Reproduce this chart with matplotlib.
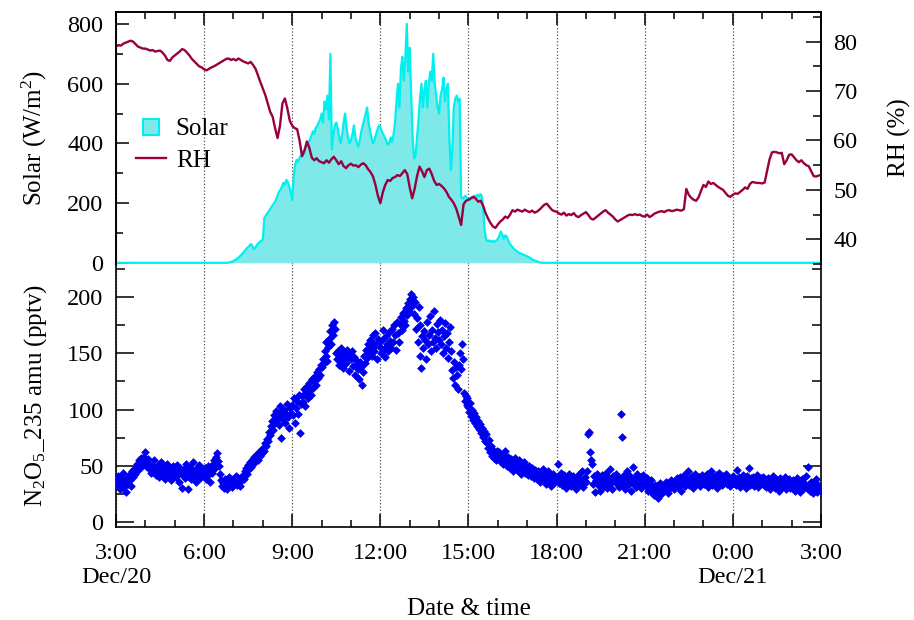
import numpy as np
import matplotlib
matplotlib.use("Agg")
from matplotlib import pyplot as plt
from matplotlib.lines import Line2D

plt.rcParams['font.family'] = ['Liberation Serif', 'DejaVu Serif']
plt.rcParams['mathtext.fontset'] = 'custom'
plt.rcParams['mathtext.rm'] = 'Liberation Serif'
plt.rcParams['mathtext.it'] = 'Liberation Serif:italic'
plt.rcParams['font.size'] = 18

# x axis: hours counted from 0:00 Dec/20
hour_ticks = [3, 6, 9, 12, 15, 18, 21, 24, 27]
hour_tick_labels = ['3:00\nDec/20', '6:00', '9:00', '12:00', '15:00',
                    '18:00', '21:00', '0:00\nDec/21', '3:00']

# Solar radiation (W/m2), 3 min steps, 6:00 - 18:00 (night is 0)
solar_day = [
    0, 0, 0, 0, 0, 0, 0, 0, 0, 0, 0, 0, 0, 0, 0, 0, 0, 1, 2, 4,
    6, 9, 12, 16, 20, 25, 30, 36, 42, 48, 53, 58, 63, 55, 45, 52, 60, 66, 70, 74,
    78, 150, 158, 165, 172, 180, 188, 195, 202, 212, 225, 238, 245, 255, 268, 262, 278, 270, 255, 235,
    210, 290, 330, 345, 338, 352, 360, 372, 365, 385, 392, 402, 412, 425, 440, 432, 452, 458, 470, 480,
    500, 470, 540, 515, 560, 480, 700, 380, 430, 460, 470, 450, 420, 400, 430, 470, 500, 450, 420, 400,
    410, 430, 460, 420, 400, 390, 410, 440, 460, 480, 500, 520, 470, 440, 420, 400, 410, 430, 445, 460,
    455, 440, 430, 420, 410, 395, 400, 420, 405, 430, 470, 540, 600, 520, 650, 690, 610, 680, 800, 640,
    720, 560, 420, 350, 360, 420, 480, 550, 600, 520, 580, 610, 520, 600, 640, 610, 700, 600, 560, 520,
    500, 560, 580, 620, 540, 580, 600, 420, 310, 380, 520, 550, 560, 540, 550, 220, 215, 220, 225, 215,
    215, 210, 220, 215, 225, 220, 228, 222, 230, 225, 180, 110, 78, 72, 75, 70, 74, 70, 72, 75,
    80, 90, 105, 95, 80, 92, 88, 75, 65, 58, 52, 46, 42, 38, 35, 32, 30, 28, 26, 24,
    22, 19, 16, 13, 10, 8, 6, 4, 2, 1, 0, 0, 0, 0, 0, 0, 0, 0, 0, 0,
    0,
]
solar_wm2 = [0] * 60 + solar_day + [0] * 180

# Relative humidity (%), 5 min steps, 3:00 Dec/20 - 3:00 Dec/21
rh_pct = [
    79.0, 79.3, 79.2, 79.6, 79.8, 80.0, 80.2, 80.0, 79.5, 79.0, 78.8, 78.6,
    78.6, 78.4, 78.2, 78.3, 78.0, 78.1, 78.2, 77.8, 77.2, 76.3, 76.1, 76.8,
    77.2, 77.6, 78.0, 78.5, 78.3, 77.8, 77.2, 76.5, 76.0, 75.5, 75.0, 74.8,
    74.4, 74.2, 74.5, 74.8, 75.0, 75.3, 75.6, 75.9, 76.2, 76.5, 76.6, 76.3,
    76.5, 76.2, 76.6, 76.3, 76.0, 75.8, 75.6, 75.9, 75.3, 74.5, 73.2, 71.8,
    70.5, 69.2, 67.5, 65.8, 64.8, 62.5, 60.5, 63.0, 67.5, 68.5, 66.5, 64.0,
    63.0, 62.5, 62.3, 60.0, 56.8, 58.0, 59.8, 58.5, 56.5, 56.0, 56.4, 55.8,
    55.6, 55.4, 56.0, 55.5, 56.2, 56.7, 56.0, 55.2, 55.8, 54.8, 54.4, 55.0,
    55.3, 54.9, 55.0, 54.6, 55.1, 55.4, 55.0, 54.2, 53.6, 52.7, 51.0, 48.8,
    47.3, 49.5, 51.0, 52.0, 51.8, 52.4, 52.6, 53.0, 52.8, 53.4, 54.0, 53.2,
    50.5, 48.3, 50.2, 52.8, 54.7, 53.8, 52.6, 54.0, 54.3, 53.2, 51.8, 51.0,
    51.2, 50.8, 50.3, 49.6, 48.6, 48.0, 47.3, 46.2, 44.6, 42.9, 47.1, 47.8,
    48.0, 48.3, 48.6, 48.2, 47.6, 47.8, 46.8, 45.3, 44.2, 43.3, 42.6, 42.3,
    43.0, 43.6, 44.0, 44.6, 44.3, 45.0, 45.9, 45.6, 46.0, 45.8, 45.6, 46.0,
    45.7, 45.5, 45.8, 45.4, 45.6, 46.0, 46.5, 47.0, 47.2, 46.6, 46.0, 45.7,
    45.6, 45.2, 45.0, 45.4, 44.8, 45.1, 44.9, 45.3, 44.7, 44.5, 44.9, 45.2,
    45.5, 44.9, 44.2, 44.0, 44.4, 44.8, 45.2, 45.6, 45.9, 45.4, 45.0, 44.6,
    44.0, 43.6, 43.9, 44.2, 44.5, 44.8, 45.0, 44.9, 45.1, 44.9, 45.0, 44.7,
    44.6, 45.0, 44.5, 44.8, 45.2, 45.4, 45.6, 45.7, 45.5, 45.8, 45.9, 45.7,
    45.8, 46.0, 45.9, 45.8, 46.1, 50.2, 49.0, 48.4, 48.0, 47.8, 48.5, 49.8,
    51.0, 50.6, 51.7, 51.2, 51.4, 51.0, 50.6, 50.3, 50.0, 49.4, 48.8, 48.6,
    49.0, 49.3, 49.2, 49.6, 50.0, 50.5, 50.2, 51.2, 51.6, 51.5, 51.4, 51.4,
    51.3, 51.5, 53.8, 56.2, 57.6, 57.7, 57.6, 57.4, 57.5, 55.2, 56.0, 57.1,
    57.2, 56.6, 56.0, 55.6, 56.0, 55.4, 55.0, 54.8, 53.8, 52.8, 52.7, 52.9,
    53.0,
]

# N2O5 signal at 235 amu (pptv), 2 min steps
n2o5_pptv = [
    38, 33, 41, 36, 29, 40, 35, 44, 31, 37, 27, 39, 34, 42, 37, 32, 45, 40, 47, 43, 49, 52, 46, 55, 50, 48, 57, 53, 51, 58,
    62, 54, 49, 56, 52, 47, 44, 50, 45, 55, 48, 42, 46, 51, 40, 44, 53, 47, 43, 49, 38, 46, 52, 41, 45, 48, 37, 44, 50, 42,
    46, 40, 51, 43, 36, 48, 44, 30, 42, 47, 39, 52, 45, 41, 29, 44, 49, 38, 43, 53, 40, 46, 36, 48, 42, 51, 39, 45, 43, 47,
    41, 48, 38, 45, 50, 43, 36, 47, 44, 52, 55, 48, 58, 61, 54, 50, 43, 37, 32, 35, 30, 38, 34, 29, 36, 40, 33, 37, 31, 35,
    38, 34, 36, 41, 33, 39, 35, 32, 37, 40, 42, 38, 45, 48, 43, 51, 47, 53, 49, 55, 52, 58, 54, 60, 57, 55, 62, 59, 64, 61,
    66, 63, 70, 68, 74, 72, 80, 77, 85, 90, 82, 95, 88, 99, 92, 97, 86, 103, 94, 75, 98, 91, 100, 88, 96, 105, 93, 84, 101, 97,
    104, 95, 110, 88, 101, 108, 96, 113, 79, 105, 112, 107, 118, 103, 115, 121, 110, 124, 117, 113, 127, 119, 125, 130, 122, 133, 128, 136, 131, 140,
    138, 145, 141, 152, 148, 160, 143, 156, 163, 170, 158, 175, 166, 178, 172, 150, 145, 152, 140, 148, 155, 143, 137, 150, 146, 141, 153, 147, 134, 149,
    145, 152, 139, 147, 131, 144, 140, 136, 127, 142, 138, 122, 133, 148, 141, 153, 146, 158, 150, 162, 155, 148, 166, 159, 152, 168, 157, 145, 163, 160,
    156, 150, 162, 171, 154, 147, 165, 158, 152, 169, 161, 155, 172, 160, 175, 166, 153, 178, 168, 160, 176, 182, 171, 186, 179, 175, 190, 184, 195, 188,
    198, 203, 192, 200, 185, 196, 172, 181, 160, 191, 148, 175, 137, 165, 155, 170, 162, 145, 178, 158, 166, 183, 152, 171, 160, 188, 164, 155, 176, 169,
    162, 180, 158, 171, 150, 165, 177, 155, 168, 146, 160, 173, 152, 135, 128, 142, 122, 138, 131, 118, 140, 150, 136, 158, 145, 115, 108, 112, 104, 110,
    102, 98, 106, 94, 100, 91, 97, 88, 93, 85, 90, 83, 87, 79, 84, 76, 81, 72, 78, 70, 66, 73, 62, 68, 59, 64, 57, 61, 55, 63,
    58, 62, 54, 60, 57, 52, 59, 63, 55, 50, 58, 53, 48, 56, 51, 45, 54, 49, 57, 52, 46, 50, 55, 47, 43, 51, 48, 53, 44, 49,
    47, 42, 50, 45, 41, 48, 44, 39, 46, 43, 38, 45, 41, 36, 44, 40, 47, 37, 42, 34, 39, 45, 36, 41, 32, 38, 43, 35, 40, 37,
    39, 52, 35, 41, 37, 44, 33, 38, 42, 36, 30, 40, 35, 43, 38, 32, 37, 41, 34, 39, 29, 36, 42, 33, 38, 35, 45, 31, 37, 40,
    36, 45, 78, 80, 62, 55, 52, 34, 41, 27, 37, 43, 33, 39, 28, 36, 42, 31, 38, 35, 44, 30, 37, 40, 33, 47, 36, 29, 41, 38,
    37, 43, 34, 40, 31, 38, 96, 76, 35, 42, 29, 39, 45, 33, 37, 41, 28, 36, 49, 34, 39, 31, 43, 37, 35, 40, 30, 38, 42, 34,
    36, 32, 39, 28, 34, 30, 37, 26, 31, 24, 33, 29, 27, 32, 21, 28, 35, 25, 30, 27, 33, 29, 36, 31, 26, 34, 30, 37, 32, 35,
    29, 36, 33, 39, 31, 35, 40, 28, 37, 34, 42, 32, 38, 36, 45, 33, 39, 35, 41, 30, 37, 43, 34, 38, 36, 40, 32, 39, 35, 42,
    38, 34, 41, 36, 43, 31, 39, 37, 45, 33, 40, 35, 38, 42, 30, 37, 44, 36, 39, 33, 41, 35, 38, 43, 34, 40, 37, 32, 39, 36,
    41, 35, 38, 33, 46, 37, 40, 31, 39, 36, 42, 34, 38, 30, 41, 37, 35, 48, 33, 39, 36, 40, 32, 38, 35, 42, 31, 37, 34, 39,
    36, 40, 33, 38, 31, 35, 39, 34, 29, 37, 32, 41, 35, 30, 38, 33, 36, 28, 39, 34, 31, 37, 33, 40, 29, 35, 32, 38, 30, 36,
    33, 37, 30, 35, 28, 34, 39, 31, 36, 27, 33, 38, 29, 35, 32, 41, 30, 49, 34, 28, 36, 31, 26, 35, 30, 38, 27, 33, 29, 31,
    28,
]

solar_hours = 3 + np.arange(len(solar_wm2)) / 20
rh_hours = 3 + np.arange(len(rh_pct)) / 12
n2o5_hours = 3 + np.arange(len(n2o5_pptv)) / 30

solar_fill = '#7fe9e9'
solar_line = '#00f0f0'
rh_color = '#990040'

fig = plt.figure(figsize=(9.14, 6.2), dpi=100)
ax_top = fig.add_axes([0.1269, 0.5742, 0.7713, 0.4064])
ax_bot = fig.add_axes([0.1269, 0.15, 0.7713, 0.4242])
ax_rh = ax_top.twinx()

# top panel: solar + RH
ax_top.fill_between(solar_hours, solar_wm2, color=solar_fill, lw=0, zorder=2)
ax_top.plot(solar_hours, solar_wm2, color=solar_line, lw=1.6, zorder=3)
ax_rh.plot(rh_hours, rh_pct, color=rh_color, lw=1.7)

# bottom panel: N2O5
ax_bot.scatter(n2o5_hours, n2o5_pptv, marker='D', s=20, color='#0000f0', lw=0, zorder=3)

for ax in (ax_top, ax_bot):
    ax.set_xlim(3, 27)
    ax.set_xticks(hour_ticks)
    ax.set_xticks(range(3, 28), minor=True)
    ax.grid(axis='x', which='major', ls=':', color='#555555', lw=0.9, zorder=1)
    ax.tick_params(axis='x', which='major', direction='in', length=9.5, width=1.1)
    ax.tick_params(axis='x', which='minor', direction='in', length=5, width=1.1)

ax_top.tick_params(axis='x', which='both', top=True, bottom=False,
                   labeltop=False, labelbottom=False)
ax_bot.tick_params(axis='x', which='both', top=False, bottom=True, pad=11.5,
                   labelsize=17.5)
ax_bot.set_xticklabels(hour_tick_labels)

ax_top.set_ylim(-4, 840)
ax_top.set_yticks(range(0, 801, 200))
ax_top.set_yticks(range(0, 801, 100), minor=True)
ax_top.tick_params(axis='y', which='major', direction='in', length=9.5, width=1.1,
                   pad=9, labelsize=17.5)
ax_top.tick_params(axis='y', which='minor', direction='in', length=5, width=1.1)

ax_rh.set_ylim(35, 86)
ax_rh.set_yticks(range(40, 81, 10))
ax_rh.set_yticks(range(35, 86, 5), minor=True)
ax_rh.tick_params(axis='y', which='major', direction='in', length=11, width=1.1,
                  pad=9, labelsize=17.5)
ax_rh.tick_params(axis='y', which='minor', direction='in', length=6, width=1.1)

ax_bot.set_ylim(-4.4, 229.4)
ax_bot.set_yticks(range(0, 201, 50))
ax_bot.set_yticks(range(0, 226, 25), minor=True)
ax_bot.tick_params(axis='y', which='both', direction='in', left=True, right=True, width=1.1)
ax_bot.tick_params(axis='y', which='major', length=13, pad=9, labelsize=17.5)
ax_bot.tick_params(axis='y', which='minor', length=6.5)

for ax in (ax_top, ax_rh, ax_bot):
    for sp in ax.spines.values():
        sp.set_linewidth(1.2)
ax_top.spines['bottom'].set_visible(False)
ax_rh.spines['bottom'].set_visible(False)
ax_bot.spines['top'].set_visible(False)

ax_top.set_ylabel('Solar (W/m$^2$)')
ax_top.yaxis.set_label_coords(-0.095, 0.5)
ax_rh.set_ylabel('RH (%)')
ax_rh.yaxis.set_label_coords(1.095, 0.5)
ax_bot.set_ylabel('N$_2$O$_5$_235 amu (pptv)')
ax_bot.yaxis.set_label_coords(-0.095, 0.5)
ax_bot.set_xlabel('Date & time', labelpad=7)

handles = [
    Line2D([], [], ls='none', marker='s', ms=11, mfc=solar_fill, mec=solar_line,
           mew=1.5, label='Solar'),
    Line2D([], [], color=rh_color, lw=1.7, label='RH'),
]
ax_rh.legend(handles=handles, loc='upper left', bbox_to_anchor=(0.028, 0.58),
             frameon=False, handlelength=1.2, handletextpad=0.4,
             labelspacing=0.35, borderpad=0, borderaxespad=0)

fig.savefig('out.png', dpi=100)
